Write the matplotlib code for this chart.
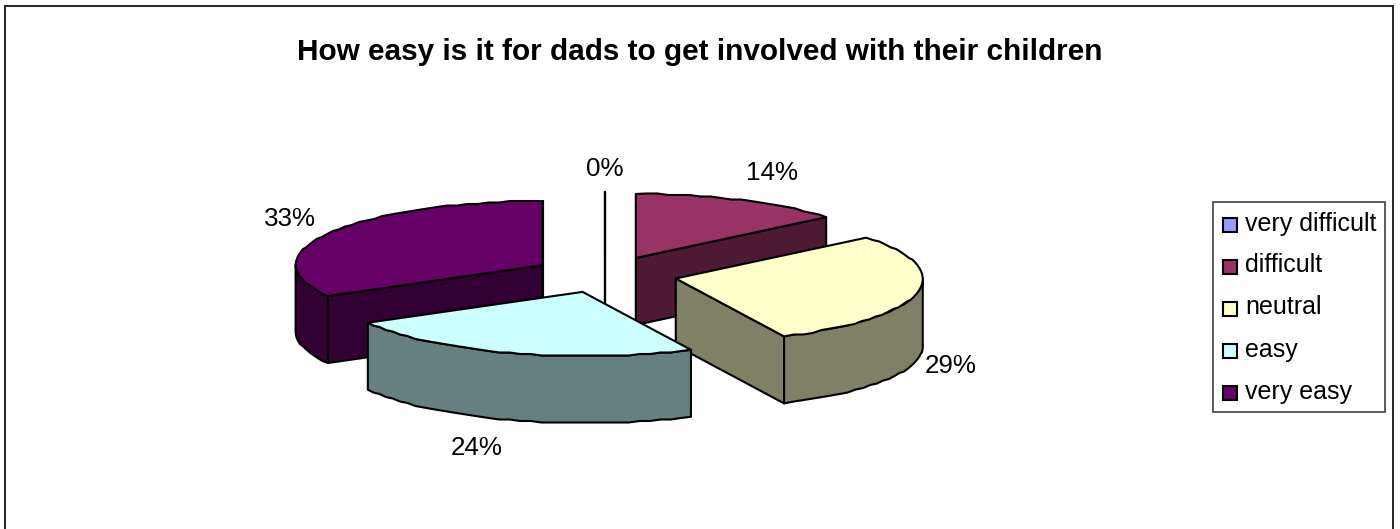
import numpy as np
import matplotlib
matplotlib.use('Agg')
import matplotlib.pyplot as plt
from matplotlib.patches import Polygon, Rectangle

plt.rcParams['font.family'] = ['Liberation Sans', 'DejaVu Sans']

title = 'How easy is it for dads to get involved with their children'
categories = ['very difficult', 'difficult', 'neutral', 'easy', 'very easy']
values = [0, 14, 29, 24, 33]
top_colors = ['#9999FF', '#993366', '#FFFFCC', '#CCFFFF', '#660066']
side_colors = ['#4D4D80', '#4D1933', '#808066', '#668080', '#330033']

# where the percent labels sit, in the same order as values
label_xy = [(605, 169.5), (772, 173.5), (951, 366), (477, 448), (290, 219)]

# pie geometry, in pixels
cx, cy = 605, 274.5
rx, ry = 247, 64
depth = 67
ex, ey = 72.5, 18.3
lean = 3.5
draw_order = [0, 4, 1, 2, 3]

W, H = 1400, 529
fig = plt.figure(figsize=(W / 100, H / 100), dpi=100)
ax = fig.add_axes([0, 0, 1, 1])
ax.set_xlim(0, W)
ax.set_ylim(H, 0)
ax.axis('off')


def rim_point(x0, y0, a):
    c = np.cos(a)
    # front of the pie leans a bit to the right, like the 3d projection does
    return x0 + rx * np.sin(a) + lean * max(-c, 0), y0 - ry * c


def rim(x0, y0, a1, a2):
    # outer edge of a slice, snapped to a grid for the slightly stepped look of an old export
    n = max(2, int(np.degrees(a2 - a1) / 2.5) + 1)
    pts = np.array([rim_point(x0, y0, t) for t in np.linspace(a1, a2, n)])
    pts[1:-1, 1] = np.round(pts[1:-1, 1] / 1.5) * 1.5
    return pts


def face(pts):
    return np.vstack([pts, (pts + [0, depth])[::-1]])


fracs = np.array(values) / sum(values)
edges = np.concatenate([[0], np.cumsum(fracs)]) * 2 * np.pi

# outer frame, the bottom edge runs off the canvas
ax.add_patch(Rectangle((5, 6), 1388, 600, fc='white', ec='#222222', lw=1.4))

for i in draw_order:
    a1, a2 = edges[i], edges[i + 1]
    mid = (a1 + a2) / 2
    x0 = cx + ex * np.sin(mid)
    y0 = cy - ey * np.cos(mid)
    style = dict(ec='black', lw=1.5, joinstyle='round', fc=side_colors[i])
    apex = np.array([[x0, y0]])

    # radial walls that turn towards the viewer
    if np.sin(a1) < 1e-9:
        ax.add_patch(Polygon(face(np.vstack([apex, rim_point(x0, y0, a1)])), **style))
    if np.sin(a2) > -1e-9:
        ax.add_patch(Polygon(face(np.vstack([apex, rim_point(x0, y0, a2)])), **style))

    # front part of the outer wall
    lo, hi = max(a1, np.pi / 2), min(a2, 3 * np.pi / 2)
    if hi > lo:
        ax.add_patch(Polygon(face(rim(x0, y0, lo, hi)), **style))

    if a2 > a1:
        top = np.vstack([apex, rim(x0, y0, a1, a2)])
    else:
        top = np.vstack([apex, rim_point(x0, y0, a1)])
    ax.add_patch(Polygon(top, fc=top_colors[i], ec='black', lw=1.5, joinstyle='round'))

for v, (x, y) in zip(values, label_xy):
    ax.text(x, y, '%d%%' % v, fontsize=18.7, ha='center', va='center', color='black')

ax.text(700, 52, title, fontsize=21.4, fontweight='bold', ha='center', va='center', color='black')

# legend box drawn by hand so that it can sit at its exact place
ax.add_patch(Rectangle((1213, 202), 172, 210, fc='white', ec='#404040', lw=1.2))
for k, (name, col) in enumerate(zip(categories, top_colors)):
    y = 225 + 42 * k
    ax.add_patch(Rectangle((1223, y - 7), 14, 14, fc=col, ec='black', lw=1.5))
    ax.text(1245, y - 1.5, name, fontsize=18, ha='left', va='center', color='black')

fig.savefig('out.png', dpi=100)
